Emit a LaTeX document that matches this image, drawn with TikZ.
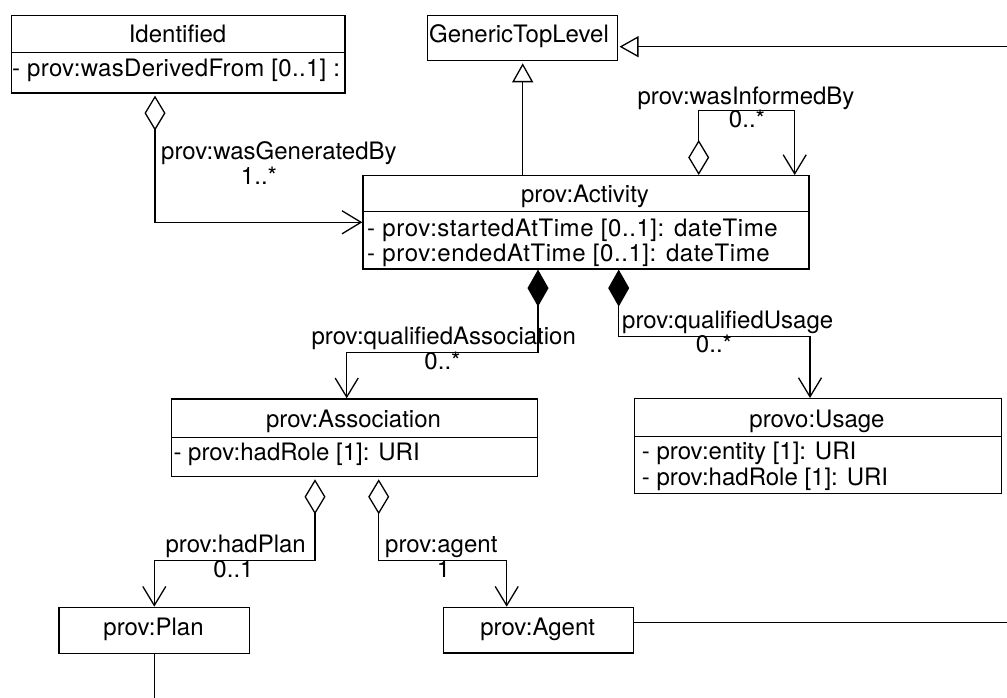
\documentclass[tikz,border=0pt]{standalone}
\usepackage{fontspec}
\setmainfont{TeX Gyre Heros}
\usetikzlibrary{arrows.meta}

\tikzset{
  cls/.style={draw, line width=1.3pt, rectangle, inner sep=0pt, anchor=north west},
  lbl/.style={inner sep=0pt, font=\fontsize{24pt}{28pt}\selectfont},
  wide/.style={font=\fontsize{24pt}{28pt}\selectfont\addfontfeatures{LetterSpace=#1}},
  title/.style={lbl, anchor=base},
  attr/.style={lbl, anchor=base west},
  wire/.style={line width=1.3pt},
  aggline/.style={wire, {Diamond[open,length=35pt,width=21pt]}-{Straight Barb[length=19pt,width=23pt]}},
  compline/.style={wire, {Diamond[length=37pt,width=21pt]}-{Straight Barb[length=19pt,width=23pt]}},
  genline/.style={wire, -{Triangle[open,length=19pt,width=21pt]}},
}

\begin{document}
\begin{tikzpicture}[x=1pt, y=-1pt]
\fill[white] (0,0) rectangle (1007,698);
\useasboundingbox (0,0) rectangle (1007,698);

% ---- classes ----
\node[cls, minimum width=333.6pt, minimum height=77.3pt] (ident) at (10.7,15) {};
\draw[wire] ([yshift=-37.3pt]ident.north west) -- ([yshift=-37.3pt]ident.north east);
\node[title] (identT) at (177.5,43) {Identified};
\begin{scope}
  \clip ([yshift=-37.3pt]ident.north west) rectangle ([xshift=-1pt]ident.south east);
  \node[attr, wide=1.3] (identA) at (12,76.7) {- prov:wasDerivedFrom [0..1] :};
\end{scope}

\node[cls, minimum width=190pt, minimum height=45pt] (gtl) at (426.7,15) {};
\node[title] (gtlT) at (519,43) {GenericTopLevel};

\node[cls, minimum width=446pt, minimum height=93.3pt] (act) at (362.3,175) {};
\draw[wire] ([yshift=-36.7pt]act.north west) -- ([yshift=-36.7pt]act.north east);
\node[title] (actT) at (585,203) {prov:Activity};
\node[attr, wide=2.4] (actA1) at (367,236) {- prov:startedAtTime [0..1]: dateTime};
\node[attr, wide=2.4] (actA2) at (367,261) {- prov:endedAtTime [0..1]: dateTime};

\node[cls, minimum width=365.7pt, minimum height=77.7pt] (assoc) at (171,398.3) {};
\draw[wire] ([yshift=-39.4pt]assoc.north west) -- ([yshift=-39.4pt]assoc.north east);
\node[title] (assocT) at (353.5,427) {prov:Association};
\node[attr] (assocA) at (173.3,460) {- prov:hadRole [1]: URI};

\node[cls, minimum width=366.7pt, minimum height=94.7pt] (usage) at (634,398) {};
\draw[wire] ([yshift=-38.7pt]usage.north west) -- ([yshift=-38.7pt]usage.north east);
\node[title] (usageT) at (817,427) {provo:Usage};
\node[attr] (usageA1) at (641.7,459) {- prov:entity [1]: URI};
\node[attr] (usageA2) at (641.7,485) {- prov:hadRole [1]: URI};

\node[cls, minimum width=190.4pt, minimum height=46pt] (plan) at (58.3,606.7) {};
\node[title] (planT) at (153.5,635) {prov:Plan};

\node[cls, minimum width=190pt, minimum height=45.6pt] (agent) at (442.7,606.7) {};
\node[title] (agentT) at (537.7,635) {prov:Agent};

% ---- free line ends at the border ----
\coordinate (rTop) at (1007,46.7);
\coordinate (rAgent) at (1007,622.3);
\coordinate (bPlan) at (154.3,698);

% ---- generalisations ----
\draw[genline] ([xshift=160.4pt]act.north west) -- ([xshift=96pt,yshift=-2pt]gtl.south west);
\draw[genline] (rTop) -- ([xshift=1.5pt]gtl.east |- rTop);
\draw[wire] (agent.east |- rAgent) -- (rAgent);
\draw[wire] ([xshift=96pt]plan.south west) -- (bPlan);

% ---- associations ----
\draw[aggline] ([xshift=144.3pt,yshift=-2pt]ident.south west) |- ([yshift=-47.3pt]act.north west);
\node[attr] (lGen) at (161,160) {prov:wasGeneratedBy};
\node[title] (mGen) at (259,184) {1..*};

\draw[aggline] ([xshift=336.4pt]act.north west) -- ++(0,-64.3) -| ([xshift=432.4pt]act.north west);
\node[title] (lInf) at (746,105) {prov:wasInformedBy};
\node[title] (mInf) at (747,128) {0..*};

\draw[compline] ([xshift=175.7pt]act.south west) -- ++(0,82.7) -| ([xshift=175.7pt]assoc.north west);
\node[title] (lQA) at (443.7,344) {prov:qualifiedAssociation};
\node[title] (mQA) at (442.5,369) {0..*};

\draw[compline] ([xshift=256.4pt]act.south west) -- ++(0,66.7) -| ([xshift=176pt]usage.north west);
\node[attr] (lQU) at (622,328) {prov:qualifiedUsage};
\node[title] (mQU) at (714,352) {0..*};

\draw[aggline] ([xshift=144pt,yshift=-2pt]assoc.south west) -- ++(0,81) -| ([xshift=96pt]plan.north west);
\node[title] (lPlan) at (235.7,552) {prov:hadPlan};
\node[title] (mPlan) at (233.5,577) {0..1};

\draw[aggline] ([xshift=207.7pt,yshift=-2pt]assoc.south west) -- ++(0,81) -| ([xshift=64pt]agent.north west);
\node[attr] (lAg) at (385,552) {prov:agent};
\node[title] (mAg) at (443.5,577) {1};
\end{tikzpicture}
\end{document}
